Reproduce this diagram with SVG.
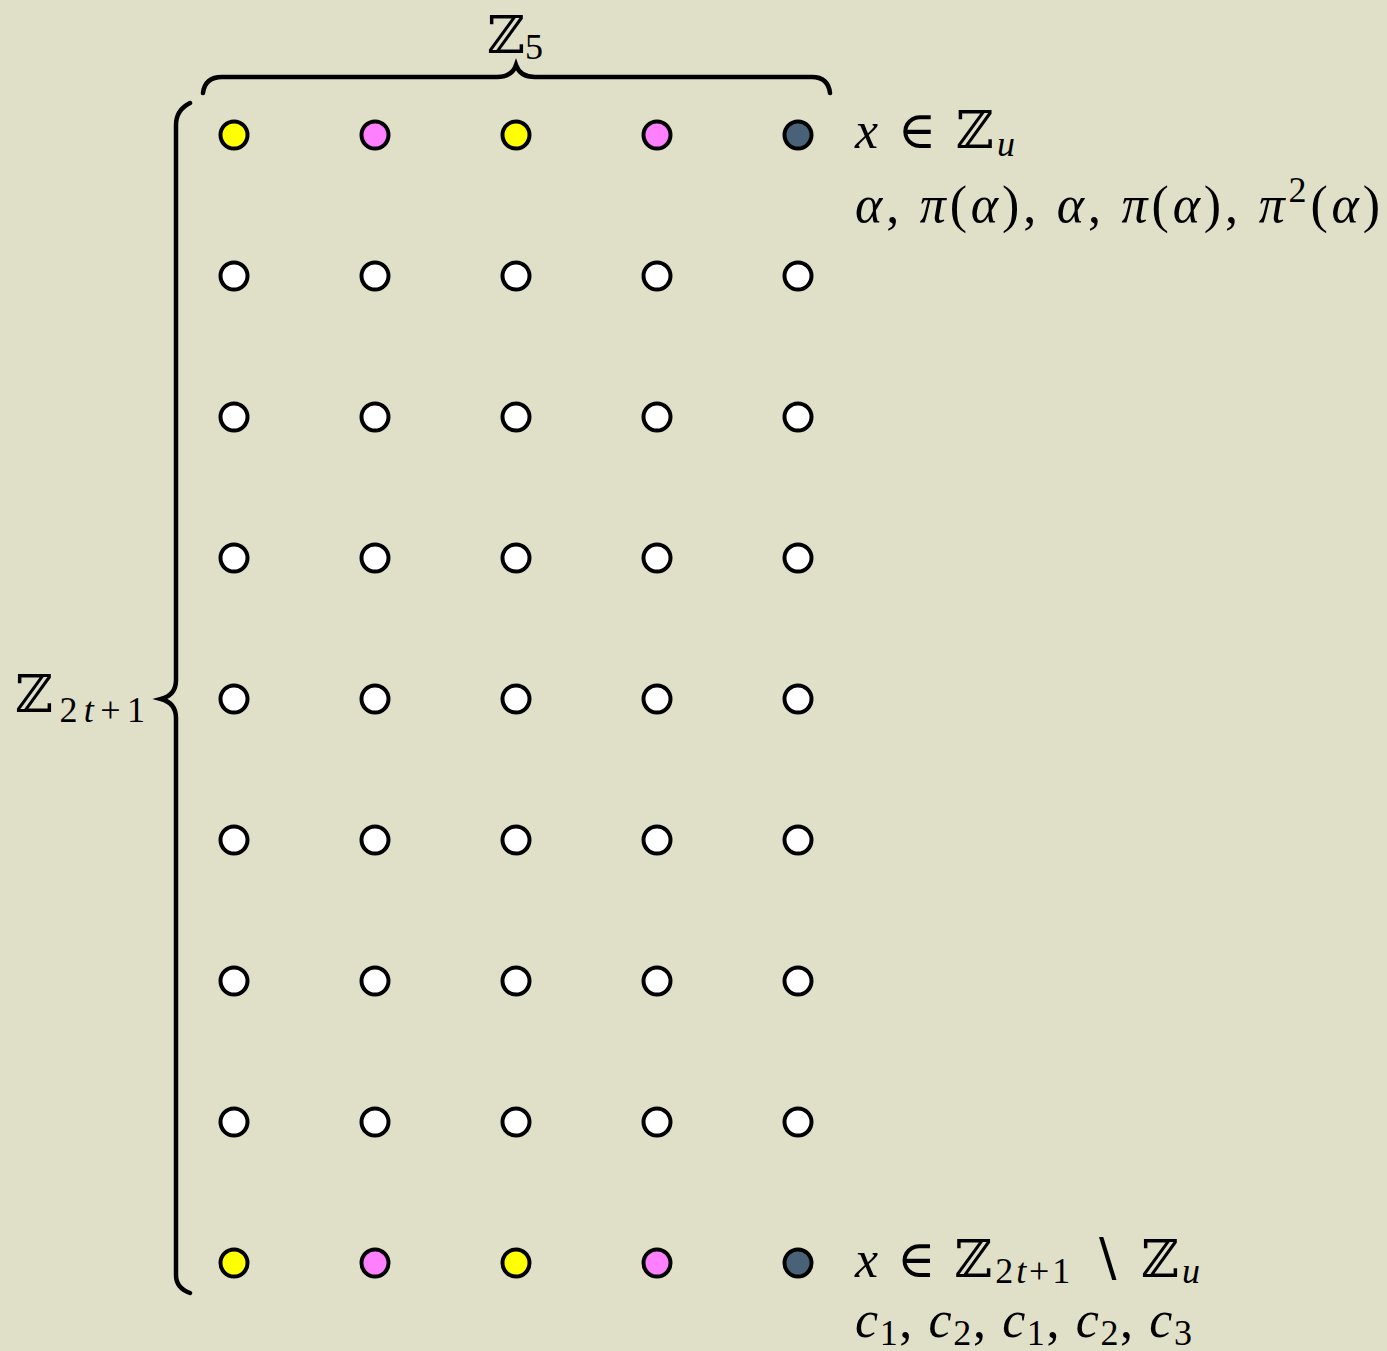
<svg xmlns="http://www.w3.org/2000/svg" width="1387" height="1351" viewBox="0 0 1387 1351">
<style>
.n{stroke:#000;stroke-width:4}
.w{fill:#fff}.y{fill:#ffff00}.p{fill:#ff80ff}.d{fill:#4a6278}
.br{fill:none;stroke:#000;stroke-width:4.5;stroke-linecap:round}
text{font-family:"Liberation Serif","DejaVu Serif",serif;font-size:52px;fill:#000}
.i{font-style:italic}
.s{font-size:36px}
</style>
<rect width="1387" height="1351" fill="#e0e0c9"/>
<g id="braces">
<path id="brace-top" class="br" d="M203,93 Q205,77 222,77 L497,77 Q512,77 516,65 Q520,77 535,77 L812,77 Q828,77 830,93"/>
<path id="brace-left" class="br" d="M190,103 Q176,110 176,125 L176,680 Q176,695 161,699 Q176,703 176,718 L176,1275 Q176,1288 190,1293"/>
</g>
<g id="labels">
<text id="label-z5" x="487" y="53" textLength="56" lengthAdjust="spacing">ℤ<tspan class="s" dy="6">5</tspan></text>
<text id="label-z2t1" x="15" y="712" textLength="130" lengthAdjust="spacing">ℤ<tspan class="s" dy="10">2</tspan><tspan class="s i">t</tspan><tspan class="s">+1</tspan></text>
<text id="label-top1" x="855" y="148" textLength="160" lengthAdjust="spacing"><tspan class="i">x</tspan> ∈ ℤ<tspan class="s i" dy="8">u</tspan></text>
<text id="label-top2" x="855" y="222" textLength="525" lengthAdjust="spacing"><tspan class="i">α</tspan>, <tspan class="i">π</tspan>(<tspan class="i">α</tspan>), <tspan class="i">α</tspan>, <tspan class="i">π</tspan>(<tspan class="i">α</tspan>), <tspan class="i">π</tspan><tspan class="s" dy="-20">2</tspan><tspan dy="20">(</tspan><tspan class="i">α</tspan>)</text>
<text id="label-bot1" x="855" y="1277" textLength="345" lengthAdjust="spacing"><tspan class="i">x</tspan> ∈ ℤ<tspan class="s" dy="6">2</tspan><tspan class="s i">t</tspan><tspan class="s">+1</tspan><tspan dy="-6"> ∖ ℤ</tspan><tspan class="s i" dy="6">u</tspan></text>
<text id="label-bot2" x="855" y="1337" textLength="337" lengthAdjust="spacing"><tspan class="i">c</tspan><tspan class="s" dy="8">1</tspan><tspan dy="-8">, </tspan><tspan class="i">c</tspan><tspan class="s" dy="8">2</tspan><tspan dy="-8">, </tspan><tspan class="i">c</tspan><tspan class="s" dy="8">1</tspan><tspan dy="-8">, </tspan><tspan class="i">c</tspan><tspan class="s" dy="8">2</tspan><tspan dy="-8">, </tspan><tspan class="i">c</tspan><tspan class="s" dy="8">3</tspan></text>
</g>
<g id="row1">
<circle id="n1-1" class="n y" cx="234" cy="135" r="13.5"/>
<circle id="n1-2" class="n p" cx="375" cy="135" r="13.5"/>
<circle id="n1-3" class="n y" cx="516" cy="135" r="13.5"/>
<circle id="n1-4" class="n p" cx="657" cy="135" r="13.5"/>
<circle id="n1-5" class="n d" cx="798" cy="135" r="13.5"/>
</g>
<g id="row2"><circle id="n2-1" class="n w" cx="234" cy="276" r="13.5"/><circle id="n2-2" class="n w" cx="375" cy="276" r="13.5"/><circle id="n2-3" class="n w" cx="516" cy="276" r="13.5"/><circle id="n2-4" class="n w" cx="657" cy="276" r="13.5"/><circle id="n2-5" class="n w" cx="798" cy="276" r="13.5"/></g>
<g id="row3"><circle id="n3-1" class="n w" cx="234" cy="417" r="13.5"/><circle id="n3-2" class="n w" cx="375" cy="417" r="13.5"/><circle id="n3-3" class="n w" cx="516" cy="417" r="13.5"/><circle id="n3-4" class="n w" cx="657" cy="417" r="13.5"/><circle id="n3-5" class="n w" cx="798" cy="417" r="13.5"/></g>
<g id="row4"><circle id="n4-1" class="n w" cx="234" cy="558" r="13.5"/><circle id="n4-2" class="n w" cx="375" cy="558" r="13.5"/><circle id="n4-3" class="n w" cx="516" cy="558" r="13.5"/><circle id="n4-4" class="n w" cx="657" cy="558" r="13.5"/><circle id="n4-5" class="n w" cx="798" cy="558" r="13.5"/></g>
<g id="row5"><circle id="n5-1" class="n w" cx="234" cy="699" r="13.5"/><circle id="n5-2" class="n w" cx="375" cy="699" r="13.5"/><circle id="n5-3" class="n w" cx="516" cy="699" r="13.5"/><circle id="n5-4" class="n w" cx="657" cy="699" r="13.5"/><circle id="n5-5" class="n w" cx="798" cy="699" r="13.5"/></g>
<g id="row6"><circle id="n6-1" class="n w" cx="234" cy="840" r="13.5"/><circle id="n6-2" class="n w" cx="375" cy="840" r="13.5"/><circle id="n6-3" class="n w" cx="516" cy="840" r="13.5"/><circle id="n6-4" class="n w" cx="657" cy="840" r="13.5"/><circle id="n6-5" class="n w" cx="798" cy="840" r="13.5"/></g>
<g id="row7"><circle id="n7-1" class="n w" cx="234" cy="981" r="13.5"/><circle id="n7-2" class="n w" cx="375" cy="981" r="13.5"/><circle id="n7-3" class="n w" cx="516" cy="981" r="13.5"/><circle id="n7-4" class="n w" cx="657" cy="981" r="13.5"/><circle id="n7-5" class="n w" cx="798" cy="981" r="13.5"/></g>
<g id="row8"><circle id="n8-1" class="n w" cx="234" cy="1122" r="13.5"/><circle id="n8-2" class="n w" cx="375" cy="1122" r="13.5"/><circle id="n8-3" class="n w" cx="516" cy="1122" r="13.5"/><circle id="n8-4" class="n w" cx="657" cy="1122" r="13.5"/><circle id="n8-5" class="n w" cx="798" cy="1122" r="13.5"/></g>
<g id="row9">
<circle id="n9-1" class="n y" cx="234" cy="1263" r="13.5"/>
<circle id="n9-2" class="n p" cx="375" cy="1263" r="13.5"/>
<circle id="n9-3" class="n y" cx="516" cy="1263" r="13.5"/>
<circle id="n9-4" class="n p" cx="657" cy="1263" r="13.5"/>
<circle id="n9-5" class="n d" cx="798" cy="1263" r="13.5"/>
</g>
</svg>
